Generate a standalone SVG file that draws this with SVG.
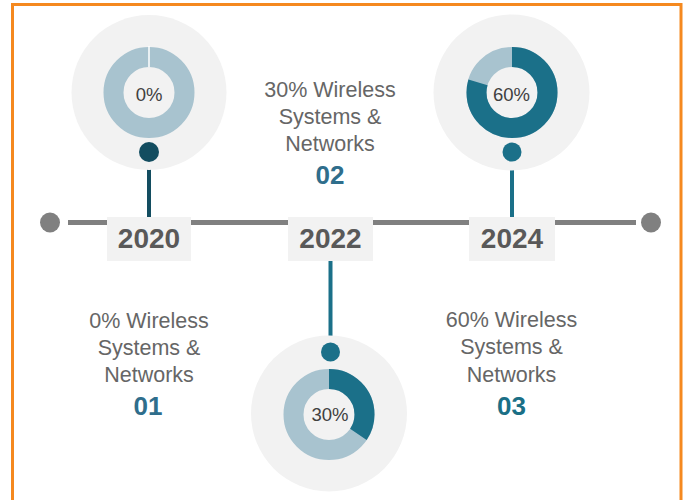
<svg xmlns="http://www.w3.org/2000/svg" width="683" height="500" viewBox="0 0 683 500">
<style>
.bg{fill:#f2f2f2}
.ring{fill:none;stroke:#a8c3cf;stroke-width:20}
.arc{fill:none;stroke:#1b7089;stroke-width:20}
.pct{font-family:"Liberation Sans",Arial,sans-serif;font-size:18.5px;fill:#404040;text-anchor:middle}
.yearbox{fill:#f2f2f2}
.year{font-family:"Liberation Sans",Arial,sans-serif;font-size:28px;font-weight:bold;fill:#595959;text-anchor:middle}
.desc{font-family:"Liberation Sans",Arial,sans-serif;font-size:21.5px;fill:#666666;text-anchor:middle}
.num{font-family:"Liberation Sans",Arial,sans-serif;font-size:26px;font-weight:bold;text-anchor:middle}
</style>
<rect x="0" y="0" width="683" height="500" fill="#ffffff"/>
<rect x="12.5" y="4.5" width="668.5" height="510" fill="none" stroke="#f5891f" stroke-width="3"/>
<g id="connectors">
<line x1="68" y1="222.5" x2="636" y2="222.5" stroke="#808080" stroke-width="5"/>
<circle cx="50" cy="222.5" r="10" fill="#808080"/>
<circle cx="651" cy="222.5" r="10" fill="#808080"/>
<line x1="149" y1="152" x2="149" y2="218" stroke="#134d60" stroke-width="4"/>
<line x1="330.5" y1="261" x2="330.5" y2="352" stroke="#1b7089" stroke-width="4"/>
<line x1="512" y1="152" x2="512" y2="218" stroke="#1b7089" stroke-width="4"/>
</g>
<g id="node-2020">
<circle class="bg" cx="149" cy="92.5" r="77.5"/>
<circle class="ring" cx="149" cy="92.5" r="35.5"/>
<line x1="149" y1="46" x2="149" y2="67" stroke="#ffffff" stroke-width="1.5"/>
<text class="pct" x="149" y="101">0%</text>
<circle cx="149" cy="152" r="10" fill="#134d60"/>
<rect class="yearbox" x="107" y="217" width="84" height="44"/>
<text class="year" x="149" y="248">2020</text>
<text class="desc" x="149" y="328">0% Wireless</text>
<text class="desc" x="149" y="355">Systems &amp;</text>
<text class="desc" x="149" y="382">Networks</text>
<text class="num" x="148" y="415" fill="#2f6e8c">01</text>
</g>
<g id="node-2022">
<circle class="bg" cx="329" cy="413.5" r="78"/>
<circle class="ring" cx="329" cy="414.5" r="35.5"/>
<circle class="arc" cx="329" cy="414.5" r="35.5" stroke-dasharray="76.8 300" transform="rotate(-90 329 414.5)"/>
<text class="pct" x="330" y="421">30%</text>
<circle cx="330.5" cy="352" r="9.5" fill="#1b7089"/>
<rect class="yearbox" x="288" y="217" width="85" height="44"/>
<text class="year" x="330.5" y="248">2022</text>
<text class="desc" x="330" y="97">30% Wireless</text>
<text class="desc" x="330" y="124">Systems &amp;</text>
<text class="desc" x="330" y="151">Networks</text>
<text class="num" x="330" y="184" fill="#2f6e8c">02</text>
</g>
<g id="node-2024">
<circle class="bg" cx="511.5" cy="92.5" r="78"/>
<circle class="ring" cx="512" cy="92.5" r="35.5"/>
<circle class="arc" cx="512" cy="92.5" r="35.5" stroke-dasharray="177.3 300" transform="rotate(-90 512 92.5)"/>
<text class="pct" x="511.5" y="101">60%</text>
<circle cx="512" cy="152" r="9.5" fill="#1b7089"/>
<rect class="yearbox" x="469" y="217" width="86" height="44"/>
<text class="year" x="512" y="248">2024</text>
<text class="desc" x="511.5" y="327">60% Wireless</text>
<text class="desc" x="511.5" y="354">Systems &amp;</text>
<text class="desc" x="511.5" y="381.5">Networks</text>
<text class="num" x="511.5" y="415" fill="#1a6f86">03</text>
</g>
</svg>
